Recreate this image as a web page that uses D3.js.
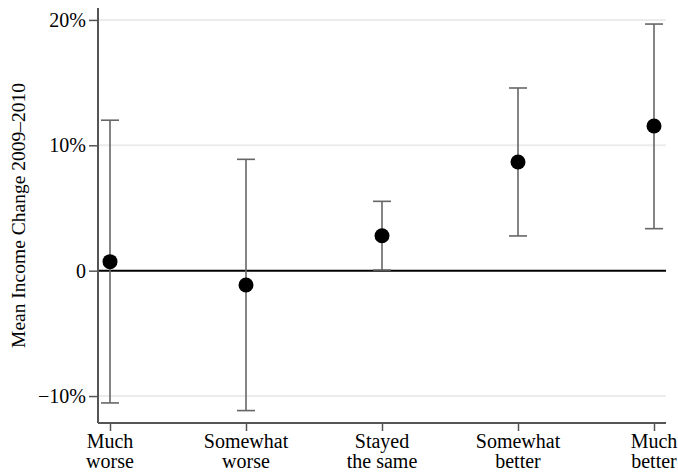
<!DOCTYPE html>
<html>
<head>
<meta charset="utf-8">
<script src="https://cdn.jsdelivr.net/npm/d3@7"></script>
<style>
  html, body { margin: 0; padding: 0; background: #fff; }
  svg { display: block; }
  text { font-family: "Liberation Serif", "Times New Roman", serif; fill: #000; }
</style>
</head>
<body>
<svg id="chart" width="678" height="472"></svg>
<script>
// Self-reported change in finances vs. mean income change, with 95% intervals
const categories = ["Much worse", "Somewhat worse", "Stayed the same", "Somewhat better", "Much better"];
const categoryLines = [["Much", "worse"], ["Somewhat", "worse"], ["Stayed", "the same"], ["Somewhat", "better"], ["Much", "better"]];
const meanChange = [0.72, -1.14, 2.79, 8.67, 11.54];
const lowerBound = [-10.55, -11.16, 0.05, 2.77, 3.35];
const upperBound = [12.0, 8.88, 5.53, 14.57, 19.67];
const yTicks = [-10, 0, 10, 20];
const yTickLabels = ["\u221210%", "0", "10%", "20%"];

const svg = d3.select("#chart");
const plot = { left: 98, right: 666, top: 8, bottom: 423 };

const x = d3.scalePoint()
  .domain(categories)
  .range([110, 654]);

const y = d3.scaleLinear()
  .domain([-12.15, 20.95])
  .range([plot.bottom, plot.top]);

// light horizontal gridlines
svg.append("g")
  .selectAll("line")
  .data(yTicks.filter(t => t !== 0))
  .join("line")
  .attr("x1", plot.left).attr("x2", plot.right)
  .attr("y1", d => y(d)).attr("y2", d => y(d))
  .attr("stroke", "#ececec")
  .attr("stroke-width", 2);

// zero reference line
svg.append("line")
  .attr("x1", plot.left).attr("x2", plot.right)
  .attr("y1", y(0)).attr("y2", y(0))
  .attr("stroke", "#000")
  .attr("stroke-width", 2);

// y axis
const yAxis = d3.axisLeft(y)
  .tickValues(yTicks)
  .tickFormat((d, i) => yTickLabels[i])
  .tickSize(9)
  .tickPadding(3)
  .tickSizeOuter(0);

const yg = svg.append("g")
  .attr("transform", `translate(${plot.left},0)`)
  .call(yAxis);
yg.select(".domain").remove();
yg.selectAll(".tick line").attr("stroke", "#555").attr("stroke-width", 1.5);
yg.selectAll(".tick text")
  .style("font-family", "Liberation Serif, serif")
  .style("font-size", "20px")
  .attr("fill", "#000");

svg.append("line")
  .attr("x1", plot.left).attr("x2", plot.left)
  .attr("y1", plot.top).attr("y2", plot.bottom)
  .attr("stroke", "#555").attr("stroke-width", 2);

// x axis
const xAxis = d3.axisBottom(x)
  .tickSize(8)
  .tickFormat("")
  .tickSizeOuter(0);

const xg = svg.append("g")
  .attr("transform", `translate(0,${plot.bottom})`)
  .call(xAxis);
xg.select(".domain").remove();
xg.selectAll(".tick line").attr("stroke", "#555").attr("stroke-width", 1.5);

svg.append("line")
  .attr("x1", plot.left).attr("x2", plot.right)
  .attr("y1", plot.bottom).attr("y2", plot.bottom)
  .attr("stroke", "#555").attr("stroke-width", 2);

// two-line category labels
const xl = svg.append("g");
categories.forEach((c, i) => {
  const t = xl.append("text")
    .attr("x", x(c))
    .attr("y", 448)
    .attr("text-anchor", "middle")
    .style("font-size", "20px");
  categoryLines[i].forEach((line, j) => {
    t.append("tspan")
      .attr("x", x(c))
      .attr("dy", j === 0 ? 0 : 20)
      .text(line);
  });
});

// y axis title
svg.append("text")
  .attr("transform", `translate(25,${(plot.top + plot.bottom) / 2}) rotate(-90)`)
  .attr("text-anchor", "middle")
  .style("font-size", "19.5px")
  .text("Mean Income Change 2009\u20132010");

// confidence intervals
const ci = svg.append("g")
  .attr("stroke", "#666")
  .attr("stroke-width", 1.6);

ci.selectAll("line.stem")
  .data(categories)
  .join("line")
  .attr("class", "stem")
  .attr("x1", d => x(d)).attr("x2", d => x(d))
  .attr("y1", (d, i) => y(lowerBound[i]))
  .attr("y2", (d, i) => y(upperBound[i]));

ci.selectAll("line.capHi")
  .data(categories)
  .join("line")
  .attr("class", "capHi")
  .attr("x1", d => x(d) - 9).attr("x2", d => x(d) + 9)
  .attr("y1", (d, i) => y(upperBound[i]))
  .attr("y2", (d, i) => y(upperBound[i]));

ci.selectAll("line.capLo")
  .data(categories)
  .join("line")
  .attr("class", "capLo")
  .attr("x1", d => x(d) - 9).attr("x2", d => x(d) + 9)
  .attr("y1", (d, i) => y(lowerBound[i]))
  .attr("y2", (d, i) => y(lowerBound[i]));

// mean markers
svg.append("g")
  .selectAll("circle")
  .data(categories)
  .join("circle")
  .attr("cx", d => x(d))
  .attr("cy", (d, i) => y(meanChange[i]))
  .attr("r", 7.5)
  .attr("fill", "#000");
</script>
</body>
</html>
